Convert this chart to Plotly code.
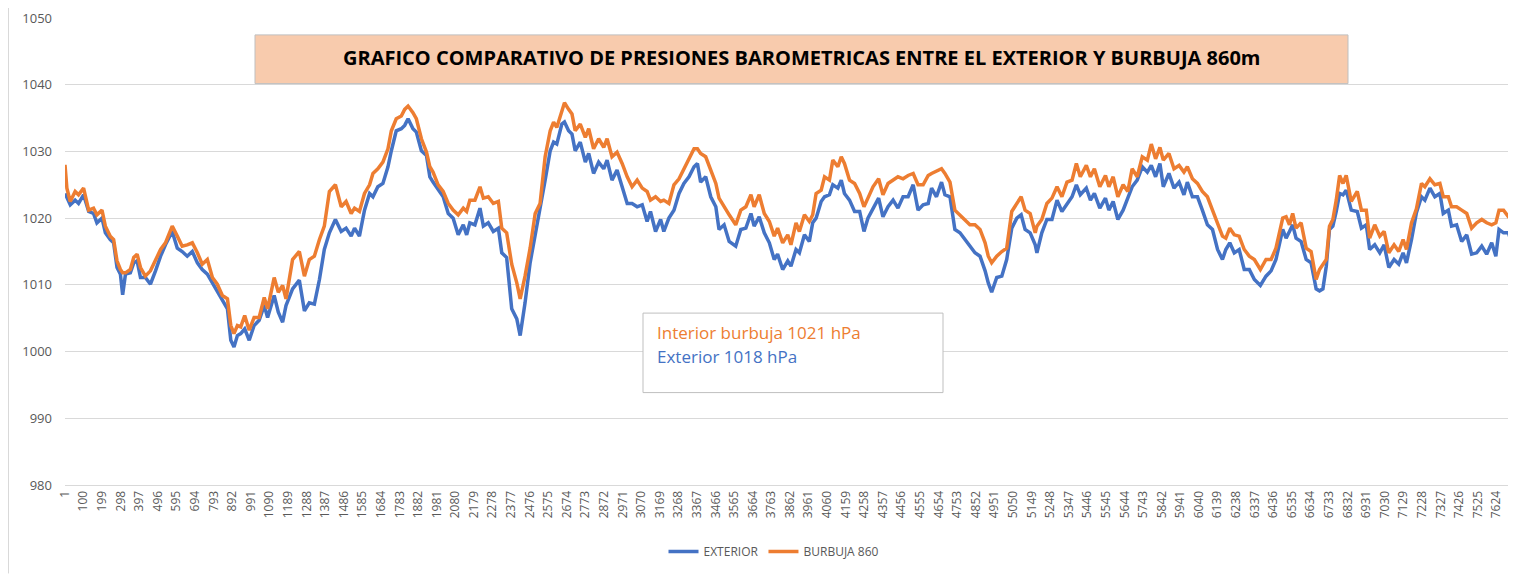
import plotly.graph_objects as go

# sample index (category position on the x axis)
sample_idx = [1, 11, 29, 55, 73, 100, 127, 153, 171, 198, 216, 242, 260, 278, 296, 308, 323, 349, 367, 385,
              403, 429, 456, 483, 510, 536, 572, 599, 625, 652, 679, 706, 732, 759, 786, 812, 839, 866, 884, 901,
              919, 937, 958, 982, 1008, 1035, 1062, 1080, 1115, 1137, 1160, 1178, 1213, 1249,
              1276, 1302, 1329, 1356, 1382, 1409, 1441, 1472, 1498, 1525, 1543, 1569, 1596, 1623, 1641, 1667,
              1694, 1721, 1739, 1765, 1792, 1810, 1828, 1854, 1872, 1899, 1926, 1944, 1961, 1988, 2015, 2042,
              2068, 2095, 2122, 2140, 2157, 2184, 2211, 2229, 2255, 2282, 2309, 2327, 2353, 2380, 2407, 2425,
              2451, 2478, 2505, 2531, 2558,
              2585, 2603, 2620, 2647, 2661, 2683, 2701, 2718, 2745, 2772, 2790, 2816, 2843, 2870, 2888, 2914,
              2941, 2968, 2995, 3021, 3048, 3075, 3101, 3119, 3146, 3173, 3190, 3217, 3244, 3271, 3297, 3324,
              3351, 3369, 3386, 3413, 3440, 3467, 3484, 3511, 3538, 3573, 3600, 3627, 3654, 3671, 3698, 3725,
              3752, 3778, 3796, 3823, 3850,
              3867, 3894, 3912, 3939, 3965, 3983, 4001, 4028, 4046, 4072, 4090, 4117, 4135, 4152, 4179, 4206,
              4233, 4256, 4277, 4304, 4334, 4357, 4384, 4411, 4437, 4464, 4491, 4518, 4544, 4571, 4598, 4616,
              4642, 4669, 4687, 4714, 4740, 4767, 4794, 4820, 4847, 4874, 4901, 4918, 4936, 4963, 4990, 5016,
              5043, 5070, 5093, 5114, 5141, 5168,
              5177, 5203, 5230, 5257, 5284, 5310, 5337, 5364, 5387, 5408, 5440, 5462, 5483, 5512, 5542, 5560,
              5583, 5608, 5636, 5661, 5684, 5711, 5738, 5765, 5786, 5809, 5832, 5850, 5880, 5907, 5934, 5960,
              5978, 6005, 6032, 6058, 6085, 6112, 6139, 6165, 6183, 6204, 6228, 6254, 6281, 6308, 6335, 6367,
              6397, 6424, 6450,
              6486, 6504, 6522, 6539, 6557, 6584, 6611, 6637, 6664, 6682, 6700, 6718, 6735, 6753, 6771, 6789,
              6807, 6824, 6851, 6883, 6905, 6931, 6949, 6976, 7003, 7026, 7051, 7079, 7104, 7127, 7145, 7172,
              7198, 7225, 7243, 7270, 7296, 7323, 7341, 7368, 7385, 7412, 7439, 7466, 7492, 7519, 7546, 7572,
              7599, 7621, 7638, 7662, 7688, 7705, 7723]

exterior = [1023.7, 1023.0, 1022.0, 1022.7, 1022.2, 1023.5, 1021.0, 1020.7, 1019.3, 1020.0, 1017.8, 1016.8, 1016.3, 1012.6, 1011.6, 1008.5, 1011.6, 1011.8, 1013.3, 1013.6,
            1011.1, 1011.1, 1010.1, 1012.1, 1014.3, 1016.0, 1018.0, 1015.5, 1015.0, 1014.3, 1015.0, 1013.3, 1012.3, 1011.6, 1010.3, 1008.9, 1007.6, 1006.4, 1001.7, 1000.7,
            1002.4, 1002.7, 1003.4, 1001.7, 1003.9, 1004.7, 1006.9, 1005.1, 1008.4, 1005.9, 1004.4, 1006.9, 1009.4, 1010.7,
            1006.1, 1007.3, 1007.1, 1010.8, 1015.3, 1017.8, 1019.8, 1018.0, 1018.5, 1017.3, 1018.5, 1017.3, 1021.2, 1023.7, 1023.2, 1024.7,
            1025.2, 1027.7, 1030.1, 1033.1, 1033.4, 1033.9, 1034.9, 1033.4, 1032.9, 1030.1, 1029.4, 1026.2, 1025.4, 1024.2, 1023.2, 1020.7,
            1020.0, 1017.5, 1019.0, 1017.5, 1019.3, 1019.0, 1021.5, 1018.8, 1019.3, 1018.0, 1018.5, 1014.8, 1014.1, 1006.4, 1004.9, 1002.4,
            1007.3, 1013.3, 1017.3, 1021.2, 1025.7,
            1030.1, 1031.4, 1031.1, 1034.1, 1034.4, 1033.1, 1032.6, 1030.1, 1031.4, 1028.4, 1029.7, 1026.7, 1028.4, 1027.4, 1028.7, 1025.7,
            1027.2, 1024.7, 1022.2, 1022.2, 1021.7, 1022.0, 1019.5, 1021.0, 1018.0, 1019.8, 1018.0, 1020.0, 1021.2, 1023.7, 1025.2, 1026.2,
            1027.7, 1028.2, 1025.4, 1026.2, 1023.2, 1021.7, 1018.3, 1019.0, 1016.5, 1015.8, 1018.3, 1018.5, 1020.7, 1018.8, 1020.2, 1017.8,
            1016.3, 1013.8, 1014.6, 1012.3, 1013.6,
            1012.8, 1015.3, 1014.8, 1017.5, 1016.5, 1019.3, 1020.0, 1022.5, 1023.2, 1023.5, 1025.0, 1024.5, 1025.7, 1023.7, 1022.7, 1021.0,
            1021.0, 1018.0, 1020.0, 1021.5, 1023.0, 1020.2, 1021.7, 1022.7, 1021.5, 1023.2, 1023.2, 1025.0, 1021.2, 1022.0, 1022.2, 1024.5,
            1023.2, 1025.4, 1023.5, 1023.2, 1018.3, 1017.8, 1016.8, 1015.8, 1014.8, 1014.3, 1012.1, 1010.3, 1008.9, 1011.1, 1011.3, 1013.8,
            1018.5, 1020.0, 1020.5, 1018.3, 1017.8, 1016.0,
            1014.8, 1017.8, 1019.8, 1019.8, 1022.7, 1021.0, 1022.2, 1023.2, 1025.0, 1023.5, 1024.5, 1022.7, 1023.7, 1021.5, 1023.0, 1021.2,
            1022.5, 1019.8, 1021.2, 1023.2, 1024.7, 1025.7, 1027.7, 1026.9, 1027.9, 1026.2, 1028.2, 1024.7, 1026.7, 1024.5, 1025.4, 1023.5,
            1025.4, 1023.2, 1023.2, 1021.2, 1019.0, 1018.3, 1015.3, 1013.8, 1015.3, 1016.3, 1014.8, 1015.3, 1012.3, 1012.3, 1010.8, 1009.9,
            1011.3, 1012.1, 1013.8,
            1018.3, 1017.0, 1018.0, 1019.0, 1017.0, 1016.5, 1013.8, 1013.3, 1009.4, 1009.1, 1009.4, 1012.8, 1018.3, 1018.8, 1021.0, 1023.7,
            1023.5, 1024.2, 1021.2, 1021.0, 1018.5, 1019.0, 1015.3, 1016.0, 1014.8, 1016.0, 1012.6, 1013.8, 1013.1, 1014.8, 1013.3, 1016.8,
            1020.8, 1023.2, 1022.7, 1024.5, 1023.2, 1023.7, 1020.7, 1021.2, 1018.8, 1019.0, 1016.5, 1017.5, 1014.6, 1014.8, 1015.8, 1014.6,
            1016.3, 1014.3, 1018.3, 1017.8, 1017.8, 1016.3, 1018.0]

burbuja = [1028.0, 1024.5, 1022.5, 1024.0, 1023.5, 1024.5, 1021.2, 1021.5, 1020.5, 1021.2, 1018.8, 1017.3, 1016.8, 1013.6, 1012.3, 1011.8, 1011.8, 1012.3, 1014.1, 1014.6,
           1012.6, 1011.3, 1012.1, 1013.6, 1015.3, 1016.3, 1018.8, 1017.3, 1015.8, 1016.0, 1016.3, 1014.8, 1013.1, 1013.8, 1011.1, 1010.1, 1008.4, 1007.9, 1003.9, 1002.7,
           1003.9, 1003.7, 1005.4, 1003.2, 1005.1, 1005.1, 1008.1, 1006.4, 1011.1, 1008.9, 1009.9, 1007.9, 1013.8, 1015.0,
           1011.3, 1013.8, 1014.3, 1016.8, 1018.8, 1024.0, 1025.0, 1021.7, 1022.5, 1020.7, 1021.5, 1021.0, 1023.7, 1025.0, 1026.7, 1027.4,
           1028.4, 1030.4, 1033.1, 1034.9, 1035.3, 1036.3, 1036.8, 1035.8, 1034.9, 1031.9, 1029.9, 1027.7, 1026.9, 1025.0, 1024.0, 1022.2,
           1021.2, 1020.5, 1021.5, 1021.0, 1022.7, 1022.7, 1024.7, 1023.0, 1023.2, 1022.2, 1022.5, 1018.5, 1017.8, 1013.1, 1010.3, 1007.9,
           1011.3, 1015.5, 1020.7, 1022.2, 1029.2,
           1033.1, 1034.4, 1033.6, 1036.1, 1037.3, 1036.3, 1035.6, 1033.1, 1034.1, 1032.1, 1033.4, 1030.4, 1031.9, 1030.6, 1031.9, 1029.2,
           1029.9, 1028.2, 1026.2, 1024.7, 1025.7, 1024.5, 1024.0, 1022.7, 1023.2, 1022.5, 1022.7, 1022.2, 1025.0, 1025.9, 1027.4, 1028.9,
           1030.4, 1030.4, 1029.7, 1029.2, 1027.2, 1025.2, 1023.0, 1021.7, 1020.5, 1019.0, 1021.2, 1021.7, 1023.5, 1021.7, 1023.5, 1020.7,
           1019.5, 1017.3, 1018.5, 1016.3, 1017.5,
           1016.0, 1019.3, 1018.0, 1020.5, 1019.5, 1020.5, 1023.7, 1024.2, 1026.2, 1025.7, 1028.7, 1027.7, 1029.2, 1028.2, 1025.7, 1025.2,
           1023.7, 1021.7, 1023.0, 1024.7, 1025.9, 1023.5, 1025.2, 1025.7, 1026.2, 1025.9, 1026.4, 1026.7, 1025.0, 1025.0, 1026.4, 1026.7,
           1027.0, 1027.4, 1026.7, 1025.4, 1021.2, 1020.5, 1019.8, 1019.0, 1019.0, 1018.3, 1016.3, 1014.3, 1013.3, 1014.3, 1015.0, 1015.5,
           1021.0, 1022.2, 1023.2, 1021.2, 1020.7, 1017.8,
           1018.8, 1019.8, 1022.2, 1023.0, 1024.7, 1023.2, 1025.4, 1025.7, 1028.2, 1026.2, 1027.9, 1026.2, 1027.4, 1024.7, 1026.4, 1024.7,
           1026.2, 1023.2, 1025.0, 1024.0, 1027.4, 1026.2, 1029.2, 1028.7, 1031.1, 1028.9, 1030.6, 1028.7, 1029.7, 1027.4, 1027.9, 1026.9,
           1027.7, 1025.9, 1025.2, 1024.0, 1023.2, 1021.2, 1019.3, 1017.3, 1017.0, 1018.5, 1017.5, 1017.3, 1015.3, 1014.3, 1013.8, 1012.3,
           1013.8, 1013.8, 1015.5,
           1020.0, 1020.2, 1019.0, 1020.7, 1018.5, 1019.3, 1015.5, 1015.0, 1010.8, 1012.3, 1013.1, 1013.8, 1018.8, 1019.8, 1022.7, 1026.4,
           1025.2, 1026.4, 1022.5, 1024.0, 1021.2, 1021.2, 1017.0, 1019.0, 1017.3, 1018.0, 1014.8, 1016.0, 1015.0, 1016.8, 1015.3, 1019.3,
           1021.4, 1025.2, 1024.7, 1025.9, 1025.0, 1025.2, 1023.2, 1023.2, 1021.7, 1021.7, 1021.2, 1020.7, 1018.5, 1019.3, 1019.8, 1019.3,
           1019.0, 1019.3, 1021.2, 1021.2, 1020.2, 1019.8, 1021.6]

tick_labels = [str(v) for v in range(1, 7724, 99)]
tick_positions = list(range(1, 7724, 99))

title_text = "GRAFICO COMPARATIVO DE PRESIONES BAROMETRICAS ENTRE EL EXTERIOR Y BURBUJA 860m"
note_interior = "Interior burbuja 1021 hPa"
note_exterior = "Exterior 1018 hPa"

BLUE = "#4472C4"
ORANGE = "#ED7D31"
GRAY_TXT = "#595959"
GRID = "#D9D9D9"

# the page body has an 8px margin: the figure is drawn 8px right and down
OFF = 8
W, H = 1516 - OFF, 574 - OFF
# plot area in page pixels: left 65, right 1515, top 15, bottom 485
ML = 65 - OFF
MT = 15 - OFF
MR = W - (1515 - OFF)
MB = H - (485 - OFF)
PW, PH = W - ML - MR, H - MT - MB


def px(x):
    """page x pixel -> paper coordinate"""
    return (x - OFF - ML) / PW


def py(y):
    """page y pixel -> paper coordinate"""
    return (H - MB - (y - OFF)) / PH


fig = go.Figure()
fig.add_trace(go.Scatter(x=sample_idx, y=exterior, mode="lines", name="EXTERIOR",
                         line=dict(color=BLUE, width=3.5)))
fig.add_trace(go.Scatter(x=sample_idx, y=burbuja, mode="lines", name="BURBUJA 860",
                         line=dict(color=ORANGE, width=3.5)))

fig.update_layout(
    width=W, height=H,
    margin=dict(l=ML, r=MR, t=MT, b=MB, pad=0),
    paper_bgcolor="white", plot_bgcolor="white",
    font=dict(family="Open Sans, sans-serif", color=GRAY_TXT, size=13),
    showlegend=True,
    legend=dict(orientation="h", x=px(774), xanchor="center", y=py(552), yanchor="middle",
                font=dict(size=12, color=GRAY_TXT), itemwidth=30),
    xaxis=dict(range=[1, 7723], tickmode="array", tickvals=tick_positions, ticktext=tick_labels,
               tickangle=-90, showgrid=False, zeroline=False, showline=True, linecolor=GRID,
               linewidth=1, ticks="",
               tickfont=dict(size=12, color=GRAY_TXT)),
    yaxis=dict(range=[980, 1050], dtick=10, showgrid=True, gridcolor=GRID, gridwidth=1,
               zeroline=False, showline=False, ticks="", ticklabelstandoff=12,
               ticklabeloverflow="allow", tickfont=dict(size=13, color=GRAY_TXT)),
    shapes=[
        dict(type="line", xref="paper", yref="paper", x0=px(8.5), x1=px(8.5), y0=py(2), y1=py(574),
             line=dict(color=GRID, width=1), layer="below"),
        dict(type="rect", xref="paper", yref="paper", x0=px(255), x1=px(1348), y0=py(81), y1=py(32),
             line=dict(color="#BFBFBF", width=1), fillcolor="#F8CBAD", layer="above"),
        dict(type="rect", xref="paper", yref="paper", x0=px(643), x1=px(943), y0=py(392), y1=py(312),
             line=dict(color="#BFBFBF", width=1), fillcolor="white", layer="above"),
    ],
    annotations=[
        dict(text="<b>" + title_text + "</b>", xref="paper", yref="paper", x=px(802), y=py(55),
             xanchor="center", yanchor="middle", showarrow=False,
             font=dict(size=20, color="black", family="Open Sans, sans-serif")),
        dict(text=note_interior, xref="paper", yref="paper", x=px(655), y=py(332),
             xanchor="left", yanchor="middle", showarrow=False,
             font=dict(size=17, color=ORANGE, family="Open Sans, sans-serif")),
        dict(text=note_exterior, xref="paper", yref="paper", x=px(655), y=py(356),
             xanchor="left", yanchor="middle", showarrow=False,
             font=dict(size=17, color=BLUE, family="Open Sans, sans-serif")),
    ],
)

fig.write_html("out.html")
